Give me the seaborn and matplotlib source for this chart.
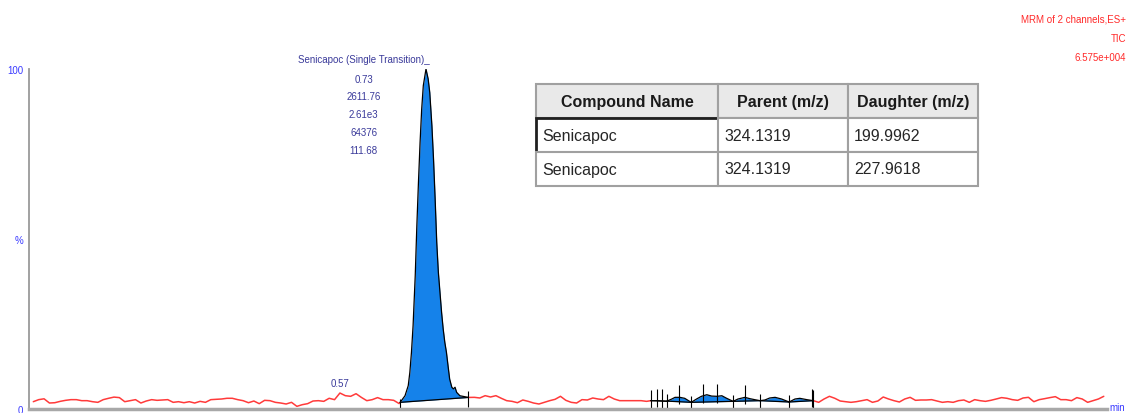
import numpy as np
import pandas as pd
import seaborn as sns
import matplotlib.pyplot as plt

# === chromatogram: time (min) vs response (%) ===
t_pre = np.arange(0, 69) / 100  # 0.00 .. 0.68
pct_pre = [2.15, 2.75, 3.0, 1.76, 1.85, 2.25, 2.55, 2.75, 2.75, 2.45,
           2.45, 2.15, 1.96, 2.75, 3.15, 3.5, 3.35, 2.15, 2.45, 2.75,
           1.76, 2.35, 2.75, 2.55, 2.65, 2.75, 1.96, 2.15, 1.85, 2.15,
           1.76, 2.25, 1.96, 2.75, 2.85, 2.94, 3.15, 3.15, 2.75, 2.45,
           1.85, 2.35, 1.57, 2.55, 2.45, 1.96, 1.76, 1.47, 1.96, 0.78,
           1.27, 1.57, 2.35, 2.45, 2.25, 3.15, 2.75, 4.7, 3.92, 3.73,
           4.5, 3.4, 2.45, 2.75, 3.35, 2.75, 2.75, 2.55, 1.6]

# main peak (Senicapoc)
peak_t = [0.682, 0.691, 0.697, 0.700, 0.703, 0.706, 0.710, 0.713, 0.716,
          0.719, 0.722, 0.725, 0.730, 0.734, 0.737, 0.741, 0.744, 0.747,
          0.750, 0.753, 0.756, 0.759, 0.762, 0.765, 0.768, 0.771, 0.774,
          0.778, 0.781, 0.784, 0.787, 0.793, 0.809]
peak_pct = [1.96, 3.9, 6.86, 10.8, 16.7, 24.5, 39.2, 53.9, 66.7,
            78.4, 88.2, 95.1, 100.0, 97.1, 93.1, 83.3, 73.5, 61.8,
            49.0, 40.2, 34.3, 28.4, 23.5, 19.6, 16.7, 12.7, 8.8,
            6.4, 5.9, 6.4, 4.9, 3.9, 3.4]

t_mid = np.arange(82, 115) / 100  # 0.82 .. 1.14
pct_mid = [3.43, 3.24, 3.92, 3.53, 3.92, 3.15, 2.45, 2.25, 1.85, 2.65,
           2.25, 1.76, 1.47, 1.96, 2.45, 2.85, 3.73, 2.55, 1.96, 1.76,
           2.75, 2.65, 3.24, 2.94, 2.75, 3.73, 2.94, 2.45, 2.45, 2.45,
           2.45, 2.45, 2.25]

# small integrated bumps
bumps_t = [1.148, 1.159, 1.177, 1.187, 1.193, 1.202, 1.211, 1.223, 1.233,
           1.242, 1.252, 1.261, 1.271, 1.280, 1.289, 1.301, 1.310, 1.323,
           1.332, 1.341, 1.351, 1.360, 1.369, 1.379, 1.391, 1.405, 1.416,
           1.425, 1.438, 1.450]
bumps_pct = [2.45, 2.45, 2.25, 2.94, 3.43, 3.43, 3.14, 1.96, 2.94,
             3.73, 4.2, 3.8, 3.73, 3.9, 3.14, 2.25, 2.94, 3.43,
             3.04, 2.75, 2.45, 2.65, 3.24, 3.43, 2.94, 2.06, 2.94,
             3.14, 2.75, 2.45]

t_post = np.arange(146, 200) / 100  # 1.46 .. 1.99
pct_post = [1.96, 2.94, 3.73, 3.15, 2.35, 2.15, 1.96, 2.15, 2.45, 2.75,
            1.96, 2.35, 3.53, 2.94, 2.45, 2.06, 2.94, 3.43, 2.55, 2.65,
            2.65, 2.75, 2.35, 1.96, 2.15, 1.96, 2.45, 2.65, 1.96, 2.75,
            2.45, 2.25, 2.55, 2.94, 3.35, 3.15, 2.75, 2.55, 3.24, 3.43,
            2.15, 2.75, 3.04, 3.35, 3.63, 2.75, 2.75, 2.45, 3.35, 2.94,
            1.96, 2.45, 2.94, 3.73]

bump_splits = [1.148, 1.178, 1.223, 1.301, 1.351, 1.405, 1.450]
bump_marks = [1.159, 1.169, 1.200, 1.245, 1.271, 1.323, 1.447]

peak_label_t = 0.614
peak_label = ["Senicapoc (Single Transition)_", "0.73", "2611.76", "2.61e3", "64376", "111.68"]
peak_label_pct = [102.9, 97.1, 92.1, 86.8, 81.5, 76.2]
noise_label_t, noise_label_pct, noise_label = 0.57, 7.6, "0.57"

header_lines = ["MRM of 2 channels,ES+", "TIC", "6.575e+004"]
table_cols = ["Compound Name", "Parent (m/z)", "Daughter (m/z)"]
table_rows = [["Senicapoc", "324.1319", "199.9962"],
              ["Senicapoc", "324.1319", "227.9618"]]

sns.set_style("white")
plt.rcParams["font.family"] = ["Liberation Sans", "DejaVu Sans"]
small = 7

# red trace only outside the integrated regions (ends shared with them)
segs = [
    (list(t_pre) + peak_t[:1], pct_pre + peak_pct[:1]),
    (peak_t[-1:] + list(t_mid) + bumps_t[:1], peak_pct[-1:] + pct_mid + bumps_pct[:1]),
    (bumps_t[-1:] + list(t_post), bumps_pct[-1:] + pct_post),
]
trace = pd.concat([pd.DataFrame({"time": t, "pct": p, "seg": i})
                   for i, (t, p) in enumerate(segs)], ignore_index=True)

fig = plt.figure(figsize=(11.27, 4.14), dpi=100)
ax = fig.add_axes([29 / 1127, 4 / 414, 1078 / 1127, 340 / 414])

sns.lineplot(data=trace, x="time", y="pct", units="seg", estimator=None,
             color="#ff3a3a", lw=1.1, ax=ax, sort=False)

# main peak, integrated
blue = "#1582ea"
pt = np.array(peak_t)
pb = np.interp(pt, [peak_t[0], peak_t[-1]], [peak_pct[0], peak_pct[-1]])
ax.fill_between(pt, peak_pct, pb, color=blue, lw=0)
sns.lineplot(x=peak_t, y=peak_pct, color="black", lw=0.9, ax=ax, sort=False)
ax.plot([peak_t[0], peak_t[-1]], [peak_pct[0], peak_pct[-1]], color="black", lw=0.9)
ax.vlines([peak_t[0]], 0, peak_pct[0] + 1.0, color="black", lw=0.8)
ax.vlines([peak_t[-1]], 0.6, peak_pct[-1] + 2.0, color="black", lw=0.8)

# small bumps
bt = np.array(bumps_t)
bp = np.array(bumps_pct)
for a, b in zip(bump_splits[:-1], bump_splits[1:]):
    xs = np.linspace(a, b, 40)
    ys = np.interp(xs, bt, bp)
    base = np.interp(xs, [a, b], [np.interp(a, bt, bp), np.interp(b, bt, bp)])
    ax.fill_between(xs, ys, base, where=ys >= base, color=blue, lw=0, interpolate=True)
    ax.plot([a, b], [base[0], base[-1]], color="black", lw=0.9)
sns.lineplot(x=bumps_t, y=bumps_pct, color="black", lw=0.9, ax=ax, sort=False)
split_y = np.interp(bump_splits, bt, bp)
ax.vlines(bump_splits[1:-1], 0, split_y[1:-1] + 2.0, color="black", lw=0.8)
ax.vlines([bump_splits[0], bump_splits[-1]], split_y[[0, -1]] - 2.5, split_y[[0, -1]] + 3.0,
          color="black", lw=0.8)
mark_y = np.interp(bump_marks, bt, bp)
ax.vlines(bump_marks, mark_y - 2.0, mark_y + 3.5, color="black", lw=0.8)

# labels
for s, yv in zip(peak_label, peak_label_pct):
    ax.text(peak_label_t, yv, s, ha="center", va="center", fontsize=small,
            color="#3a3a9a", clip_on=False)
ax.text(noise_label_t, noise_label_pct, noise_label, ha="center", va="center",
        fontsize=small, color="#3a3a9a")

# axes
ax.set_xlim(-0.008, 1.996)
ax.set_ylim(0, 100)
ax.set_xlabel("")
ax.set_ylabel("")
for side in ["top", "right"]:
    ax.spines[side].set_visible(False)
ax.spines["left"].set_color("#9a9a9a")
ax.spines["left"].set_linewidth(1.3)
ax.spines["bottom"].set_color("#a8a8a8")
ax.spines["bottom"].set_linewidth(2.5)
ax.set_yticks(np.arange(0, 101, 10))
ax.set_yticklabels(["0", "", "", "", "", "%", "", "", "", "", "100"])
ax.tick_params(axis="y", length=3, width=0.8, color="#9a9a9a", labelsize=small,
               labelcolor="#3a3aff", pad=1)
ax.set_xticks(np.arange(0, 2.0, 0.01))
ax.set_xticklabels([])
ax.tick_params(axis="x", length=3, width=0.5, color="#b0b0b0")
fig.text(1117 / 1127, 1 - 408 / 414, "min", ha="center", va="center",
         fontsize=small, color="#3a3aff")

for s, yp in zip(header_lines, [20, 39, 58]):
    fig.text(1126 / 1127, 1 - yp / 414, s, ha="right", va="center",
             fontsize=small, color="#ff2a2a")

# table of transitions
tax = fig.add_axes([536 / 1127, 1 - 187 / 414, 442 / 1127, 102 / 414])
tax.axis("off")
tbl = tax.table(cellText=table_rows, colLabels=table_cols,
                colWidths=[0.412, 0.294, 0.294], bbox=[0, 0, 1, 1], cellLoc="left")
tbl.auto_set_font_size(False)
tbl.set_fontsize(11.5)
widths = [182, 130, 130]
for (r, c), cell in tbl.get_celld().items():
    cell.set_edgecolor("#a0a0a0")
    cell.set_linewidth(1.5)
    cell.PAD = 6 / widths[c]
    if r == 0:
        cell.set_facecolor("#e9e9e9")
        cell.get_text().set_fontweight("bold")
        cell.get_text().set_color("#1a1a1a")
        cell.get_text().set_ha("center")
        cell._loc = "center"
    if r == 1 and c == 0:
        cell.set_edgecolor("#202020")
        cell.set_linewidth(2)

fig.savefig("out.png", dpi=100)
